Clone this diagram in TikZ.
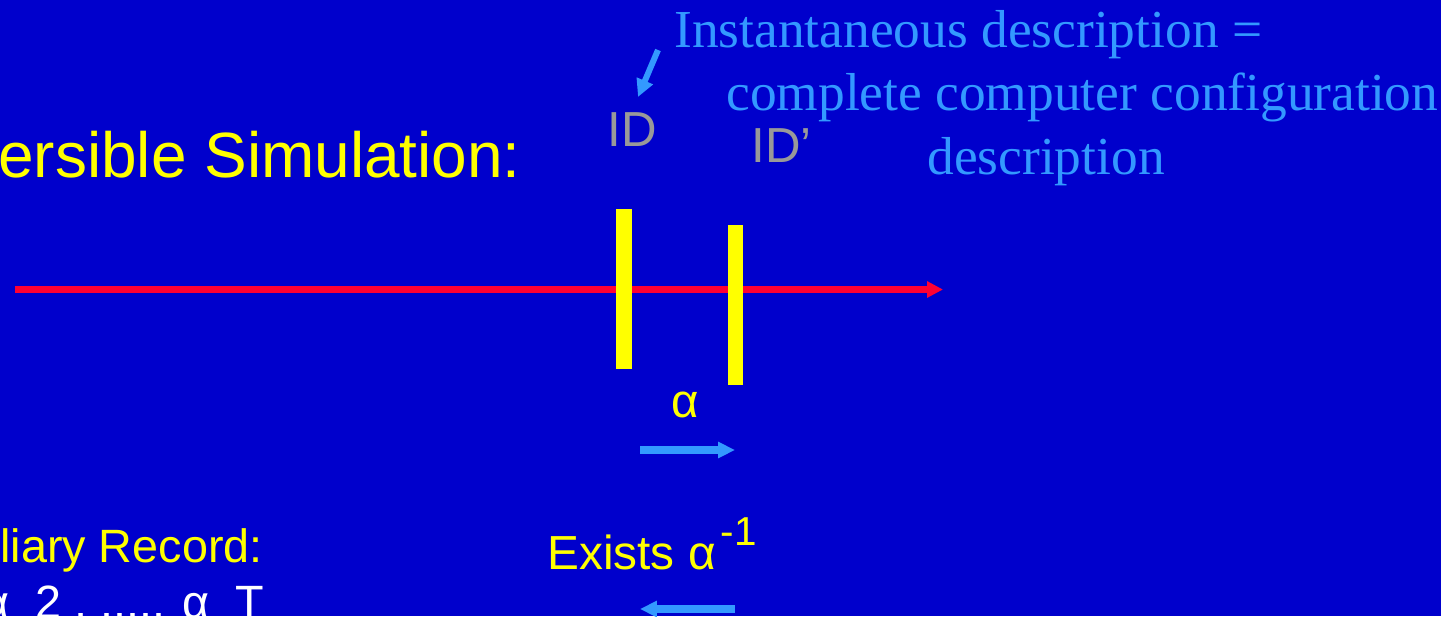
\documentclass[tikz,border=0pt]{standalone}
\usepackage{fontspec}
\setmainfont{Liberation Sans}
\newfontfamily\timesfont{Liberation Serif}
\usetikzlibrary{arrows.meta}

\definecolor{slideblue}{RGB}{0,0,204}
\definecolor{lineyellow}{RGB}{255,255,0}
\definecolor{linered}{RGB}{255,0,51}
\definecolor{noteblue}{RGB}{51,153,255}
\definecolor{idgray}{RGB}{153,153,153}

\tikzset{
  txt/.style={inner sep=0pt, anchor=base west},
  blueArrow/.style={draw=noteblue, line width=4.2pt,
    -{Triangle[length=9.6pt, width=8.8pt]}},
  bar/.style={fill=lineyellow, draw=none},
}

\begin{document}
\begin{tikzpicture}[x=0.02cm, y=-0.02cm]

    \def\W{1441}
    \def\H{616}
    \def\axis{289.5}

    % --- Background ---
    \useasboundingbox (0,0) rectangle (\W,\H);
    \fill[slideblue] (0,0) rectangle (\W,\H);
    \clip (0,0) rectangle (\W,\H);

    % --- Time line ---
    \coordinate (start) at (15,\axis);
    \coordinate (stop) at (943,\axis);
    \draw[linered, line width=4.2pt, -{Triangle[length=9pt, width=8.8pt]}] (start) -- (stop);

    % --- Configurations ID and ID' ---
    \fill[bar] (616,209) rectangle (632,369);
    \fill[bar] (728,225) rectangle (743,385);

    \node[txt, idgray, font=\fontsize{28}{28}\selectfont] (id) at (607,146) {ID};
    \node[txt, idgray, font=\fontsize{28}{28}\selectfont] (idp) at (751,162) {ID’};

    % --- Explanation ---
    \node[txt, noteblue, font=\timesfont\fontsize{30.4}{30.4}\selectfont] (line1) at (674,47) {Instantaneous description =};
    \node[txt, noteblue, font=\timesfont\fontsize{30.4}{30.4}\selectfont] (line2) at (726,110) {complete computer configuration};
    \node[txt, noteblue, font=\timesfont\fontsize{30.4}{30.4}\selectfont] (line3) at (927,174) {description};

    \coordinate (pt) at (658,50);
    \coordinate (ph) at (638,97);
    \draw[draw=noteblue, line width=3.4pt, -{Triangle[length=10pt, width=9.5pt]}] (pt) -- (ph);

    % --- Step alpha ---
    \node[inner sep=0pt, anchor=base, lineyellow, font=\fontsize{27}{27}\selectfont] (alpha) at (685,417) {α};
    \coordinate (fwa) at (640,450);
    \coordinate (fwb) at (735,450);
    \draw[blueArrow] (fwa) -- (fwb);

    \node[txt, lineyellow, font=\fontsize{27.2}{27.2}\selectfont] (inv) at (547,569)
      {Exists α\hspace{3pt}\raisebox{13.6pt}{\fontsize{23}{23}\selectfont -1}};
    \coordinate (bwa) at (735,609);
    \coordinate (bwb) at (640,609);
    \draw[blueArrow] (bwa) -- (bwb);

    % --- Left hand labels ---
    \node[txt, lineyellow, font=\fontsize{36.4}{36.4}\selectfont] (title) at (-2,177) {ersible Simulation:};
    \node[txt, lineyellow, font=\fontsize{26.6}{26.6}\selectfont] (rec) at (0,562) {liary Record:};
    \node[txt, white, font=\fontsize{26.6}{26.6}\selectfont] (seq) at (-18,618) {α\ \ 2 , ..... α\ \ T};

\end{tikzpicture}
\end{document}
